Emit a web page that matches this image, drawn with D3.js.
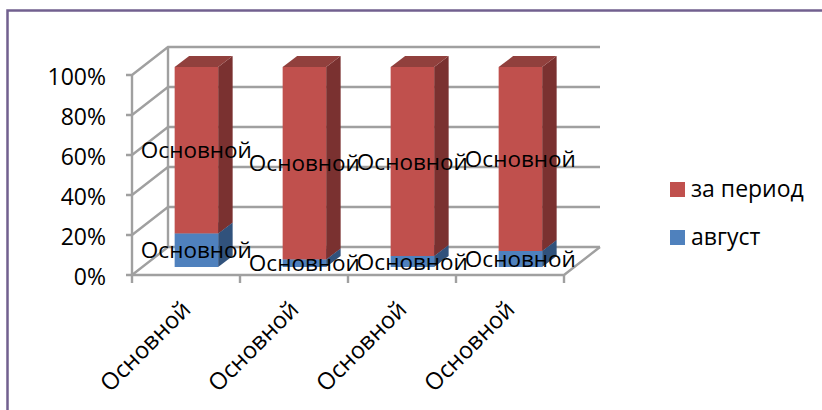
<!DOCTYPE html>
<html>
<head>
<meta charset="utf-8">
<script src="https://cdnjs.cloudflare.com/ajax/libs/d3/7.8.5/d3.min.js"></script>
<style>
html, body { margin: 0; padding: 0; background: #fff; }
text { font-family: "Open Sans", "Noto Sans", sans-serif; fill: #000; }
</style>
</head>
<body>
<svg id="chart" width="822" height="410"></svg>
<script>
const categories = ['Основной', 'Основной', 'Основной', 'Основной'];
const august = [16.8, 3.8, 5.5, 8];
const period = [83.2, 96.2, 94.5, 92];
const yTicks = [0, 20, 40, 60, 80, 100];
const legendNames = ['за период', 'август'];

const svg = d3.select('#chart');

// chart frame
svg.append('path')
    .attr('d', 'M822,10.5H7.5V410')
    .attr('fill', 'none')
    .attr('stroke', '#71608f')
    .attr('stroke-width', 2.5);

const x = d3.scaleBand().domain(d3.range(categories.length)).range([132, 564]);
const y = d3.scaleLinear().domain([0, 100]).range([275, 75]);

// depth of the floor, and where the bars stand on it
const depth = { x: 36, y: -28 };
const barOffset = { x: 10.4, y: -8 };
const barDepth = { x: 14.5, y: -11 };
const barWidth = 43.5;
const gridColor = '#a0a0a0';

const grid = svg.append('g')
    .attr('fill', 'none')
    .attr('stroke', gridColor)
    .attr('stroke-width', 2.4);

yTicks.forEach(t => {
    grid.append('path').attr('d', d3.line()([
        [126, y(t)],
        [132, y(t)],
        [132 + depth.x, y(t) + depth.y],
        [564 + depth.x, y(t) + depth.y]
    ]));
});
// left wall edges and floor front
grid.append('path').attr('d', `M132,${y(100)}V${y(0)}`);
grid.append('path').attr('d', `M${132 + depth.x},${y(100) + depth.y}V${y(0) + depth.y}`);
grid.append('path').attr('d', `M132,${y(0)}H564L${564 + depth.x},${y(0) + depth.y}`);
d3.range(categories.length + 1).forEach(i => {
    const px = i < categories.length ? x(i) : x.range()[1];
    grid.append('path').attr('d', `M${px},${y(0)}v8`);
});

// one 3d box: front, top and side faces
function box(g, x0, v0, v1, colors) {
    const y0 = y(v0) + barOffset.y;
    const y1 = y(v1) + barOffset.y;
    const x1 = x0 + barWidth;
    g.append('path').attr('fill', colors.side)
        .attr('d', `M${x1},${y1}l${barDepth.x},${barDepth.y}V${y0 + barDepth.y}L${x1},${y0}Z`);
    g.append('path').attr('fill', colors.top)
        .attr('d', `M${x0},${y1}l${barDepth.x},${barDepth.y}H${x1 + barDepth.x}L${x1},${y1}Z`);
    g.append('rect').attr('fill', colors.front)
        .attr('x', x0).attr('y', y1).attr('width', barWidth).attr('height', y0 - y1);
}

const blue = { front: '#4f81bd', side: '#31527c', top: '#3e6797' };
const red = { front: '#c0504d', side: '#7a3130', top: '#91403d' };

const bars = svg.append('g');
categories.forEach((c, i) => {
    const x0 = x(i) + x.bandwidth() / 2 + barOffset.x - barWidth / 2;
    box(bars, x0, 0, august[i], blue);
    box(bars, x0, august[i], august[i] + period[i], red);
});

// data labels sit at the middle of each segment
const labels = svg.append('g')
    .attr('font-size', 22.5)
    .attr('text-anchor', 'middle');
categories.forEach((c, i) => {
    const cx = x(i) + x.bandwidth() / 2 + barOffset.x;
    labels.append('text')
        .attr('x', cx).attr('y', y(august[i] / 2) + barOffset.y + 8)
        .text(c);
    labels.append('text')
        .attr('x', cx).attr('y', y(august[i] + period[i] / 2) + barOffset.y + 8)
        .text(c);
});

// y tick labels
svg.append('g')
    .attr('font-size', 23)
    .attr('text-anchor', 'end')
    .selectAll('text')
    .data(yTicks)
    .join('text')
    .attr('x', 106)
    .attr('y', d => y(d) + 9.5)
    .text(d => d + '%');

// rotated category labels
svg.append('g')
    .attr('font-size', 23.5)
    .attr('text-anchor', 'end')
    .selectAll('text')
    .data(categories)
    .join('text')
    .attr('transform', (d, i) => `translate(${x(i) + x.bandwidth() / 2 + 6},${311}) rotate(-45)`)
    .text(d => d);

// legend
const legendColors = [red.front, blue.front];
const legend = svg.append('g');
legendNames.forEach((name, i) => {
    const ly = 182 + i * 48;
    legend.append('rect')
        .attr('x', 670).attr('y', ly)
        .attr('width', 15).attr('height', 15)
        .attr('fill', legendColors[i]);
    legend.append('text')
        .attr('x', 691).attr('y', ly + 15)
        .attr('font-size', 23)
        .text(name);
});
</script>
</body>
</html>
